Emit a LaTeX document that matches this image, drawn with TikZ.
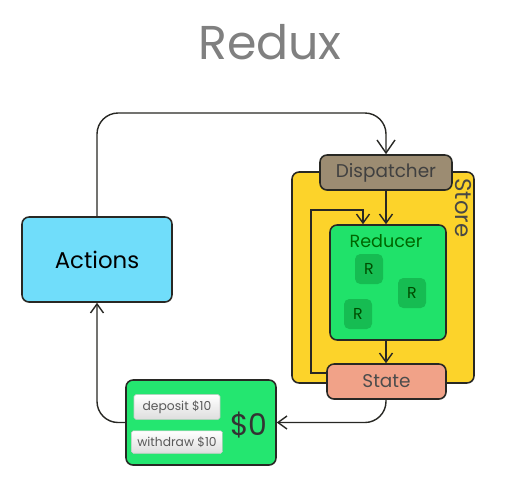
\documentclass[tikz,border=0pt]{standalone}
\usepackage{fontspec}
\setmainfont{Poppins}
\usepackage{xcolor}
\usetikzlibrary{arrows.meta}

\definecolor{actcol}{RGB}{112,221,250}
\definecolor{storecol}{RGB}{252,211,42}
\definecolor{dispcol}{RGB}{156,140,114}
\definecolor{redcol}{RGB}{32,226,106}
\definecolor{rcol}{RGB}{22,188,82}
\definecolor{statecol}{RGB}{241,162,136}
\definecolor{acccol}{RGB}{36,230,112}
\definecolor{edge}{RGB}{40,40,36}

\begin{document}
\begin{tikzpicture}[x=0.02cm,y=-0.02cm,
		box/.style={draw=edge,line width=0.9pt,rounded corners=4pt,align=center,inner sep=0pt},
		flow/.style={draw=edge,line width=0.8pt,-{Straight Barb[length=1.8mm,width=2.6mm]}},
		big/.style={flow,-{Straight Barb[length=2.6mm,width=3.6mm]}},
		btn/.style={top color=white,bottom color=black!13,draw=white!80!black,line width=0.3pt,rounded corners=1pt,minimum width=1.72cm,minimum height=0.36cm,font=\fontsize{7}{8}\selectfont,text=black!65}]
	\useasboundingbox (0,0) rectangle (519,481);
	\node[text=black!50,font=\fontsize{27}{30}\selectfont] (title) at (270,42) {Redux};
	\node[box,fill=actcol,minimum width=3cm,minimum height=1.7cm,font=\fontsize{13}{15}\selectfont] (act) at (97,259.5) {Actions};
	\node[box,fill=storecol,minimum width=3.64cm,minimum height=4.22cm] (store) at (383,277.5) {};
	\node[text=edge!85,rotate=-90,font=\fontsize{13}{15}\selectfont] (storelbl) at (463,208) {Store};
	\node[box,fill=dispcol,minimum width=2.64cm,minimum height=0.7cm,font=\fontsize{10.5}{12}\selectfont,text=black!75] (disp) at (386,172.5) {Dispatcher};
	\node[box,fill=redcol,minimum width=2.32cm,minimum height=2.3cm] (red) at (388,282.5) {};
	\node[text=black!60!green,font=\fontsize{10}{12}\selectfont] (redlbl) at (386,241) {Reducer};
	\foreach \n/\x/\y in {r1/369/269,r2/412/293,r3/358/314}
		\node[fill=rcol,rounded corners=3pt,inner sep=0pt,minimum width=0.56cm,minimum height=0.6cm,font=\fontsize{9}{10}\selectfont,text=black!70!green] (\n) at (\x,\y) {R};
	\node[box,fill=statecol,minimum width=2.38cm,minimum height=0.7cm,font=\fontsize{10.5}{12}\selectfont,text=black!70] (state) at (386.5,381.5) {State};
	\node[box,fill=acccol,minimum width=3cm,minimum height=1.7cm] (acc) at (201,422.5) {};
	\node[btn] (dep) at (177,407) {deposit \$10};
	\node[btn] (wd) at (177,442) {withdraw \$10};
	\node[font=\fontsize{17}{20}\selectfont,text=black!80] (bal) at (249,425) {\$0};
	% connectors
	\coordinate (loop) at (363,210);
	\draw[big,rounded corners=12pt] (act.north) -- (97,113) -| (disp.north);
	\draw[flow] (disp.south) -- (disp.south |- red.north);
	\draw[flow] (state.west |- 0,373) -- (311,373) |- (loop) -- (loop |- red.north);
	\draw[flow] (red.south -| disp.south) -- (disp.south |- state.north);
	\draw[flow,rounded corners=12pt] (disp.south |- state.south) |- (acc.east);
	\draw[flow,rounded corners=12pt] (acc.west) -| (act.south);
\end{tikzpicture}
\end{document}
